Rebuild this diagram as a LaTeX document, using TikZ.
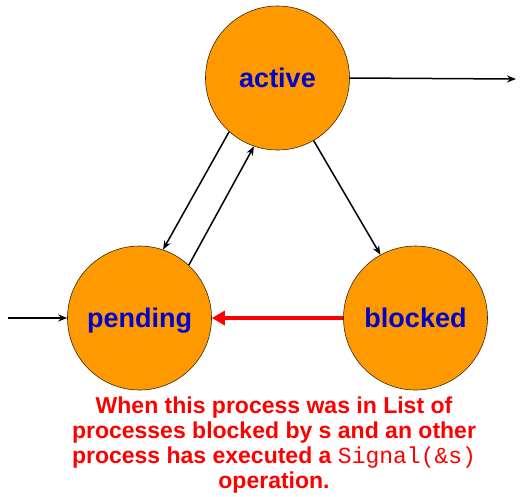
\documentclass[tikz,border=0pt]{standalone}
\usepackage{fontspec}
\setmainfont{Liberation Sans}
\setmonofont{Liberation Mono}
\usetikzlibrary{arrows.meta}
\definecolor{stateorange}{RGB}{255,153,0}
\definecolor{labelblue}{RGB}{0,0,204}
\definecolor{notered}{RGB}{255,0,0}
\tikzset{
  state/.style={circle, fill=stateorange, draw=black!70!brown, line width=0.6pt,
    minimum size=144pt, inner sep=0pt, text=labelblue, text height=18pt, text depth=0pt,
    font=\fontsize{27}{30}\selectfont\bfseries},
  trans/.style={draw=black, line width=1.5pt, -{Stealth[length=9pt,width=7pt]}},
  redtrans/.style={draw=notered, line width=4.5pt, -{Triangle[length=13pt,width=14pt]}},
}
\begin{document}
\begin{tikzpicture}[x=1pt,y=-1pt]
\useasboundingbox (0,0) rectangle (526,496);
\node[state] (active) at (277.5,78) {active};
\node[state] (pending) at (139.5,318) {pending};
\node[state] (blocked) at (415.5,318) {blocked};
\coordinate (out) at (516,79);
\coordinate (in) at (8,318);
\draw[trans] (active.east) -- (out);
\draw[trans] (in) -- (pending.west);
\draw[trans] (active.228.5) -- (pending.71.7);
\draw[trans] (pending.47) -- (active.251.2);
\draw[trans] (active.300) -- (blocked.119.4);
\draw[redtrans] (blocked.west) -- (pending.east);
\node[text=notered, align=center, font=\fontsize{23}{25}\selectfont\bfseries, inner sep=0pt] (note) at (274,445)
  {When this process was in List of\\processes blocked by s and an other\\process has executed a {\mdseries\ttfamily Signal(\&s)}\\operation.};
\end{tikzpicture}
\end{document}
